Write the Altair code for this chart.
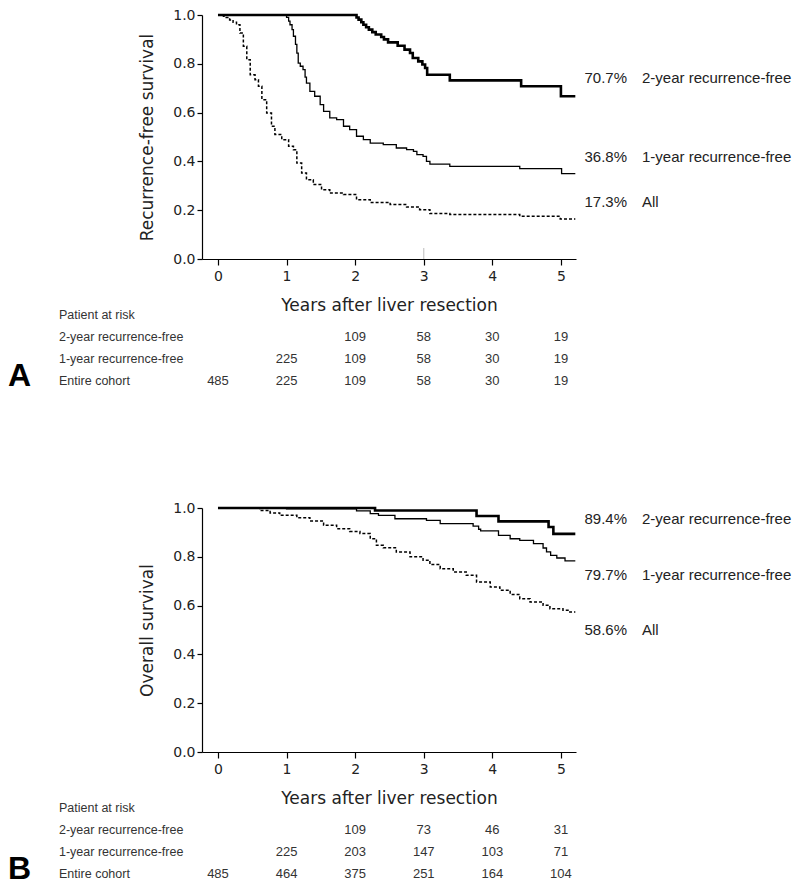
import altair as alt
import pandas as pd

# ---------------- data ----------------
YEARS = [0, 1, 2, 3, 4, 5]
GROUPS = ["2-year recurrence-free", "1-year recurrence-free", "All"]
ROW_LABELS = ["Patient at risk", "2-year recurrence-free", "1-year recurrence-free", "Entire cohort"]

# Panel A: recurrence-free survival
A_TWO_T = [0, 2.02, 2.05, 2.09, 2.12, 2.16, 2.20, 2.25, 2.30, 2.38, 2.42, 2.48, 2.62, 2.72, 2.80, 2.84,
           2.92, 2.98, 3.02, 3.05, 3.38, 4.42, 5.00, 5.21]
A_TWO_S = [1.0, 0.99, 0.981, 0.97, 0.96, 0.95, 0.94, 0.93, 0.92, 0.91, 0.90, 0.888, 0.874, 0.858, 0.844, 0.824,
           0.81, 0.797, 0.783, 0.755, 0.732, 0.708, 0.667, 0.667]
A_ONE_T = [0, 1.00, 1.03, 1.05, 1.08, 1.10, 1.13, 1.15, 1.17, 1.20, 1.24, 1.27, 1.29, 1.34, 1.41, 1.49, 1.54,
           1.63, 1.73, 1.83, 1.92, 2.02, 2.12, 2.22, 2.41, 2.60, 2.75, 2.85, 2.90, 2.99, 3.04, 3.09, 3.38, 4.40,
           5.01, 5.21]
A_ONE_S = [1.0, 0.99, 0.975, 0.96, 0.94, 0.913, 0.88, 0.844, 0.803, 0.79, 0.776, 0.745, 0.721, 0.687, 0.667,
           0.633, 0.605, 0.578, 0.571, 0.544, 0.530, 0.503, 0.489, 0.475, 0.469, 0.455, 0.448, 0.441, 0.428,
           0.421, 0.40, 0.389, 0.380, 0.370, 0.350, 0.350]
A_ALL_T = [0, 0.08, 0.12, 0.17, 0.22, 0.27, 0.32, 0.37, 0.42, 0.47, 0.54, 0.59, 0.64, 0.71, 0.78, 0.83, 0.93,
           1.03, 1.10, 1.15, 1.22, 1.29, 1.39, 1.51, 1.63, 1.83, 2.02, 2.22, 2.51, 2.75, 2.94, 3.09, 3.38, 4.40,
           4.99, 5.21]
A_ALL_S = [1.0, 0.995, 0.99, 0.98, 0.97, 0.96, 0.926, 0.872, 0.817, 0.755, 0.735, 0.708, 0.653, 0.598, 0.544,
           0.51, 0.489, 0.462, 0.448, 0.393, 0.352, 0.325, 0.305, 0.284, 0.270, 0.264, 0.243, 0.232, 0.223,
           0.213, 0.202, 0.186, 0.182, 0.175, 0.164, 0.164]
A_PCT = ["70.7%", "36.8%", "17.3%"]
A_RISK_TWO = [None, None, 109, 58, 30, 19]
A_RISK_ONE = [None, 225, 109, 58, 30, 19]
A_RISK_ALL = [485, 225, 109, 58, 30, 19]

# Panel B: overall survival
B_TWO_T = [0, 2.29, 3.77, 4.09, 4.82, 4.89, 5.21]
B_TWO_S = [1.0, 0.99, 0.967, 0.945, 0.922, 0.894, 0.894]
B_ONE_T = [0, 1.0, 2.02, 2.22, 2.34, 2.58, 3.04, 3.24, 3.72, 3.80, 3.83, 4.09, 4.26, 4.40, 4.60, 4.74, 4.79,
           4.85, 4.94, 5.06, 5.21]
B_ONE_S = [1.0, 0.997, 0.988, 0.977, 0.97, 0.956, 0.949, 0.936, 0.926, 0.913, 0.906, 0.888, 0.874, 0.867,
           0.854, 0.836, 0.82, 0.806, 0.795, 0.783, 0.783]
B_ALL_T = [0, 0.61, 0.76, 0.90, 1.15, 1.34, 1.54, 1.73, 1.92, 2.07, 2.22, 2.31, 2.41, 2.60, 2.80, 2.99, 3.09,
           3.24, 3.43, 3.62, 3.77, 3.97, 4.11, 4.26, 4.40, 4.55, 4.74, 4.84, 5.03, 5.13, 5.21]
B_ALL_S = [1.0, 0.99, 0.98, 0.97, 0.96, 0.947, 0.929, 0.915, 0.904, 0.895, 0.874, 0.847, 0.837, 0.82, 0.80,
           0.786, 0.768, 0.751, 0.738, 0.724, 0.697, 0.676, 0.663, 0.646, 0.628, 0.615, 0.601, 0.587, 0.581,
           0.574, 0.574]
B_PCT = ["89.4%", "79.7%", "58.6%"]
B_RISK_TWO = [None, None, 109, 73, 46, 31]
B_RISK_ONE = [None, 225, 203, 147, 103, 71]
B_RISK_ALL = [485, 464, 375, 251, 164, 104]

# ---------------- layout (not data) ----------------
A_LABEL_Y = [0.742, 0.418, 0.234]
B_LABEL_Y = [0.955, 0.725, 0.50]
W, H = 374, 244
X_DOMAIN = [-0.233, 5.22]
ROW_RANGE = [300, 366]
TEXT_FONT = "Liberation Sans"
AXIS_FONT = "DejaVu Sans"
STYLES = {
    "2-year recurrence-free": dict(strokeWidth=2.6),
    "1-year recurrence-free": dict(strokeWidth=1.3),
    "All": dict(strokeWidth=1.5, strokeDash=[3, 2]),
}


def make_panel(curves, pcts, label_y, risks, ytitle, letter, artifact=False):
    xenc = alt.X("t:Q", scale=alt.Scale(domain=X_DOMAIN, nice=False, zero=False),
                 axis=alt.Axis(values=YEARS, format="d", title="Years after liver resection",
                               tickSize=6, labelPadding=4, titleY=46, titleBaseline="middle"))
    yenc = alt.Y("s:Q", scale=alt.Scale(domain=[0, 1], nice=False, zero=False),
                 axis=alt.Axis(values=[0, 0.2, 0.4, 0.6, 0.8, 1.0], format=".1f", title=ytitle,
                               tickSize=5, labelPadding=2, titleX=-55, titleBaseline="middle"))
    layers = []
    for g, (ts, ss) in zip(GROUPS, curves):
        df = pd.DataFrame({"t": ts, "s": ss})
        layers.append(alt.Chart(df).mark_line(interpolate="step-after", color="black",
                                              **STYLES[g]).encode(x=xenc, y=yenc))
    if artifact:
        adf = pd.DataFrame({"t": [3], "s": [0.0], "s2": [0.045]})
        layers.insert(0, alt.Chart(adf).mark_rule(color="#c8c8c8", strokeWidth=1.2).encode(
            x=xenc, y=yenc, y2="s2:Q"))
    ldf = pd.DataFrame({"pct": pcts, "name": GROUPS, "s": label_y})
    layers.append(alt.Chart(ldf).mark_text(align="right", baseline="middle", font=TEXT_FONT,
                                           fontSize=15, color="#222").encode(
        x=alt.value(425), y=yenc, text="pct:N"))
    layers.append(alt.Chart(ldf).mark_text(align="left", baseline="middle", font=TEXT_FONT,
                                           fontSize=15, color="#222").encode(
        x=alt.value(440), y=yenc, text="name:N"))
    main = alt.layer(*layers)

    rows = []
    for r, vals in enumerate(risks, start=1):
        for yr, v in zip(YEARS, vals):
            if v is not None:
                rows.append({"t": yr, "row": r, "n": str(v)})
    rdf = pd.DataFrame(rows)
    row_y = alt.Y("row:Q", scale=alt.Scale(domain=[0, 3], range=ROW_RANGE, nice=False, zero=False),
                  axis=None)
    table = alt.Chart(rdf).mark_text(align="center", baseline="middle", font=TEXT_FONT,
                                     fontSize=13, color="#333").encode(x=xenc, y=row_y, text="n:N")
    lab_df = pd.DataFrame({"row": list(range(4)), "label": ROW_LABELS})
    rowlab = alt.Chart(lab_df).mark_text(align="left", baseline="middle", font=TEXT_FONT,
                                         fontSize=12.5, color="#333").encode(
        x=alt.value(-143), y=row_y, text="label:N")
    let_df = pd.DataFrame({"row": [2.75], "letter": [letter]})
    let = alt.Chart(let_df).mark_text(align="left", baseline="middle", font=TEXT_FONT,
                                      fontSize=32, fontWeight="bold", color="black").encode(
        x=alt.value(-194), y=row_y, text="letter:N")
    tab = alt.layer(table, rowlab, let)
    return alt.layer(main, tab).resolve_scale(y="independent").properties(width=W, height=H)


panel_a = make_panel([(A_TWO_T, A_TWO_S), (A_ONE_T, A_ONE_S), (A_ALL_T, A_ALL_S)],
                     A_PCT, A_LABEL_Y, [A_RISK_TWO, A_RISK_ONE, A_RISK_ALL],
                     "Recurrence-free survival", "A", artifact=True)
panel_b = make_panel([(B_TWO_T, B_TWO_S), (B_ONE_T, B_ONE_S), (B_ALL_T, B_ALL_S)],
                     B_PCT, B_LABEL_Y, [B_RISK_TWO, B_RISK_ONE, B_RISK_ALL],
                     "Overall survival", "B")

chart = alt.vconcat(panel_a, panel_b, spacing=109).properties(padding=0).configure_view(
    stroke=None
).configure_axis(
    domainColor="black", tickColor="black", labelColor="#222", titleColor="#222",
    labelFont=AXIS_FONT, titleFont=AXIS_FONT, labelFontSize=14, titleFontSize=17,
    titleFontWeight="normal", grid=False, domainWidth=1.2, tickWidth=1.2
)

chart.save("out.html", embed_options={"renderer": "svg", "actions": False})
